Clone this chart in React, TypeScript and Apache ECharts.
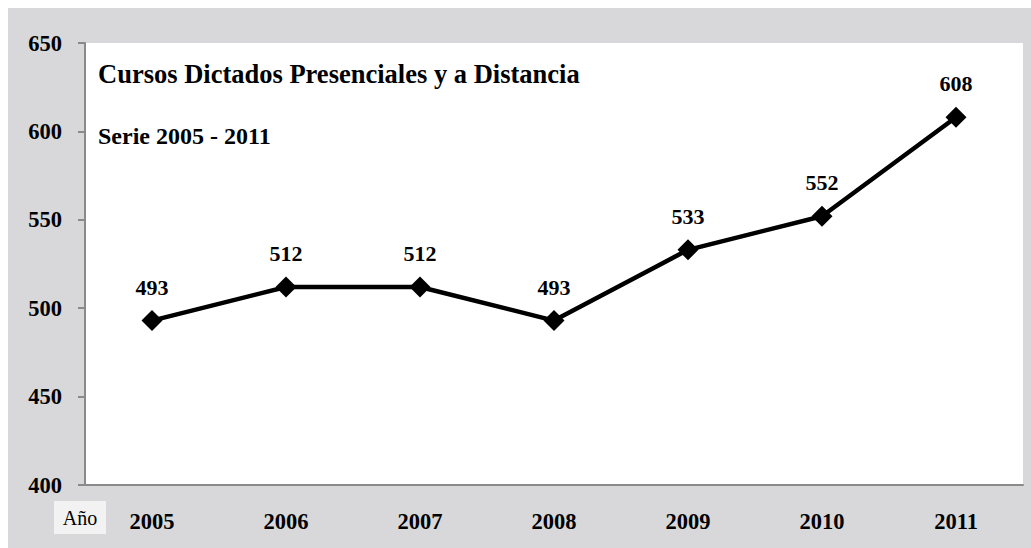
import React, { useEffect, useRef } from "react";
import * as echarts from "echarts";

const years = ["2005", "2006", "2007", "2008", "2009", "2010", "2011"];
const cursos = [493, 512, 512, 493, 533, 552, 608];
const titleText = "Cursos Dictados Presenciales y a Distancia";
const subtitleText = "Serie 2005 - 2011";
const axisNameText = "Año";

const FONT = "'Liberation Serif', 'Times New Roman', serif";

export default function App() {
  const ref = useRef<HTMLDivElement>(null);
  useEffect(() => {
    if (!ref.current) return;
    const chart = echarts.init(ref.current, null, { renderer: "svg" });
    chart.setOption({
      animation: false,
      backgroundColor: "#d8d8da",
      grid: {
        left: 77,
        top: 35,
        right: 8,
        bottom: 63,
        show: true,
        backgroundColor: "#ffffff",
        borderWidth: 0,
      },
      xAxis: {
        type: "category",
        data: years,
        boundaryGap: true,
        axisLine: { lineStyle: { color: "#8a8a8a", width: 2 } },
        axisTick: { alignWithLabel: true, length: 5, lineStyle: { color: "#8a8a8a", width: 2 } },
        axisLabel: {
          color: "#000",
          fontFamily: FONT,
          fontWeight: "bold",
          fontSize: 22.5,
          margin: 25,
        },
      },
      yAxis: {
        type: "value",
        min: 400,
        max: 650,
        interval: 50,
        splitLine: { show: false },
        axisLine: { show: true, lineStyle: { color: "#8a8a8a", width: 2 } },
        axisTick: { show: true, length: 7, lineStyle: { color: "#8a8a8a", width: 2 } },
        axisLabel: {
          color: "#000",
          fontFamily: FONT,
          fontWeight: "bold",
          fontSize: 22.5,
          margin: 23,
        },
      },
      series: [
        {
          type: "line",
          data: cursos,
          symbol: "diamond",
          symbolSize: 21,
          itemStyle: { color: "#000" },
          lineStyle: { color: "#000", width: 4.5 },
          label: {
            show: true,
            position: "top",
            distance: 12,
            color: "#000",
            fontFamily: FONT,
            fontWeight: "bold",
            fontSize: 22,
          },
        },
      ],
      graphic: [
        {
          type: "text",
          x: 90,
          y: 66,
          style: {
            text: titleText,
            fontFamily: FONT,
            fontWeight: "bold",
            fontSize: 26.5,
            fill: "#000",
            verticalAlign: "middle",
          },
        },
        {
          type: "text",
          x: 90,
          y: 128,
          style: {
            text: subtitleText,
            fontFamily: FONT,
            fontWeight: "bold",
            fontSize: 24,
            fill: "#000",
            verticalAlign: "middle",
          },
        },
        {
          type: "rect",
          shape: { x: 46, y: 493, width: 52, height: 33 },
          style: { fill: "#f2f2f2" },
        },
        {
          type: "text",
          x: 72,
          y: 510,
          style: {
            text: axisNameText,
            fontFamily: FONT,
            fontSize: 20,
            fill: "#000",
            align: "center",
            verticalAlign: "middle",
          },
        },
      ],
    });
    return () => chart.dispose();
  }, []);
  return (
    <div
      ref={ref}
      style={{ position: "fixed", left: 8, top: 8, width: 1023, height: 540 }}
    />
  );
}
